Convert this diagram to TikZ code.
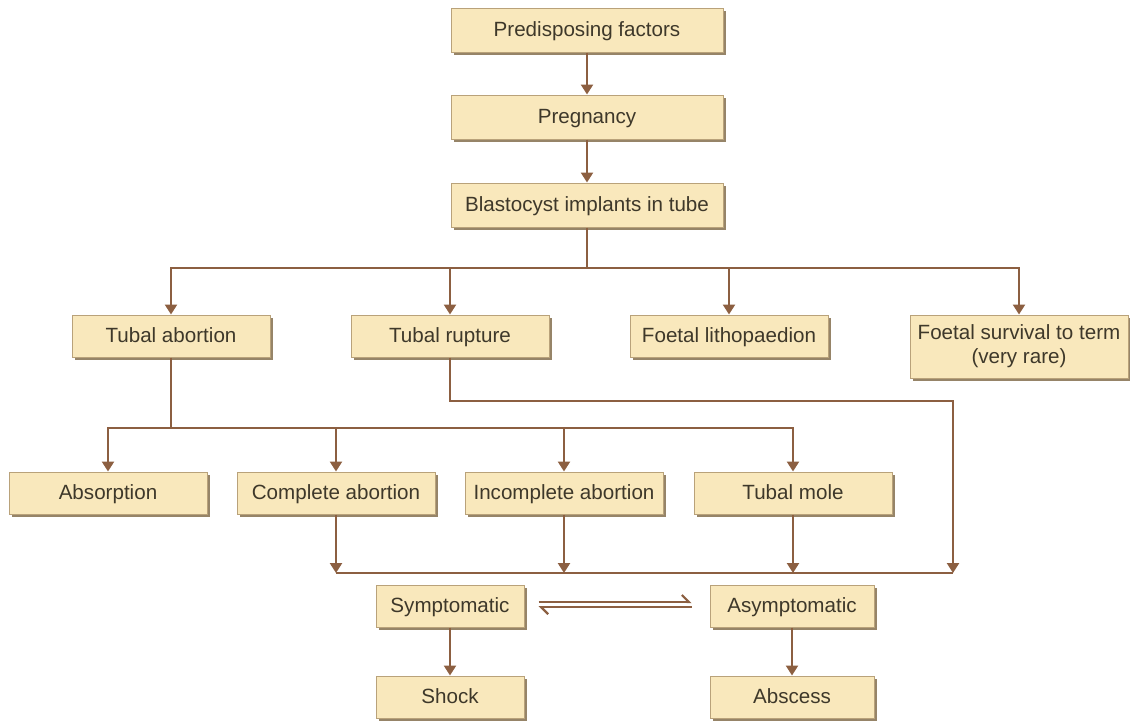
\documentclass[tikz,border=0pt]{standalone}
\usepackage{fontspec}
\setmainfont{Liberation Sans}
\usepackage{tikz}
\usetikzlibrary{arrows.meta,positioning,calc,shadows}
\usepackage{xcolor}
\definecolor{boxfill}{RGB}{249,232,188}
\definecolor{boxline}{RGB}{185,162,122}
\definecolor{boxshade}{RGB}{150,132,104}
\definecolor{conn}{RGB}{140,95,65}
\definecolor{txt}{RGB}{62,56,42}

\begin{document}
\begin{tikzpicture}[
    x=0.5pt, y=-0.5pt,
    boxbase/.style={rectangle, draw=boxline, line width=0.5pt, fill=boxfill, text=txt,
        minimum width=99pt, minimum height=21pt, inner sep=1pt, align=center,
        font=\fontsize{10.3}{12}\selectfont,
        drop shadow={shadow xshift=1.6pt, shadow yshift=-1.6pt, fill=boxshade, opacity=1}},
    box/.style={boxbase, text height=1.6ex, text depth=0.45ex},
    wide/.style={box, minimum width=136pt, minimum height=22pt},
    small/.style={box, minimum width=74pt},
    mid/.style={box, minimum width=82pt},
    line/.style={draw=conn, line width=1.2pt},
    arr/.style={line, -{Triangle[width=6pt,length=5pt]}},
    harp/.style={line, line width=1.1pt, -{Straight Barb[harpoon,length=3.5pt,width=7pt]}}
]
    \useasboundingbox (0,0) rectangle (1130,720);

    % top chain
    \node[wide] (pre) at (587,30) {Predisposing factors};
    \node[wide] (preg) at (587,117) {Pregnancy};
    \node[wide] (blast) at (587,205) {Blastocyst implants in tube};

    % outcomes of implantation
    \node[box] (tabort) at (171,336) {Tubal abortion};
    \node[box] (trupt) at (450,336) {Tubal rupture};
    \node[box] (litho) at (729,336) {Foetal lithopaedion};
    \node[boxbase, minimum width=109pt, minimum height=31.5pt] (surv) at (1019,346.5) {Foetal survival to term\\(very rare)};

    % outcomes of tubal abortion
    \node[box] (absorb) at (108,493) {Absorption};
    \node[box] (compl) at (336,493) {Complete abortion};
    \node[box] (incompl) at (564,493) {Incomplete abortion};
    \node[box] (mole) at (793,493) {Tubal mole};

    \node[small] (sympt) at (450,606) {Symptomatic};
    \node[mid] (asympt) at (792,606) {Asymptomatic};
    \node[small] (shock) at (450,697) {Shock};
    \node[mid] (absc) at (792,697) {Abscess};

    \coordinate (bus1) at (587,268);
    \coordinate (bus2) at (171,428);
    \coordinate (bus3) at (336,573);
    \coordinate (rc) at (953,401);
    \coordinate (rj) at (953,573);

    \draw[arr] (pre) -- (preg);
    \draw[arr] (preg) -- (blast);
    \draw[line] (blast) -- (bus1);
    \foreach \n in {tabort,trupt,litho,surv}
        \draw[arr] (bus1) -| (\n.north);

    \draw[line] (tabort) -- (bus2);
    \foreach \n in {absorb,compl,incompl,mole}
        \draw[arr] (bus2) -| (\n.north);

    \draw[arr] (trupt.south) |- (rc) -- (rj);
    \draw[line] (bus3) -- (rj);
    \foreach \n in {compl,incompl,mole}
        \draw[arr] (\n.south) -- (\n.south |- bus3);

    \draw[harp] ([xshift=7pt,yshift=2pt]sympt.east) -- ([xshift=-9pt,yshift=2pt]asympt.west);
    \draw[harp] ([xshift=-9pt,yshift=-0.6pt]asympt.west) -- ([xshift=7pt,yshift=-0.6pt]sympt.east);

    \draw[arr] (sympt) -- (shock);
    \draw[arr] (asympt) -- (absc);
\end{tikzpicture}
\end{document}
